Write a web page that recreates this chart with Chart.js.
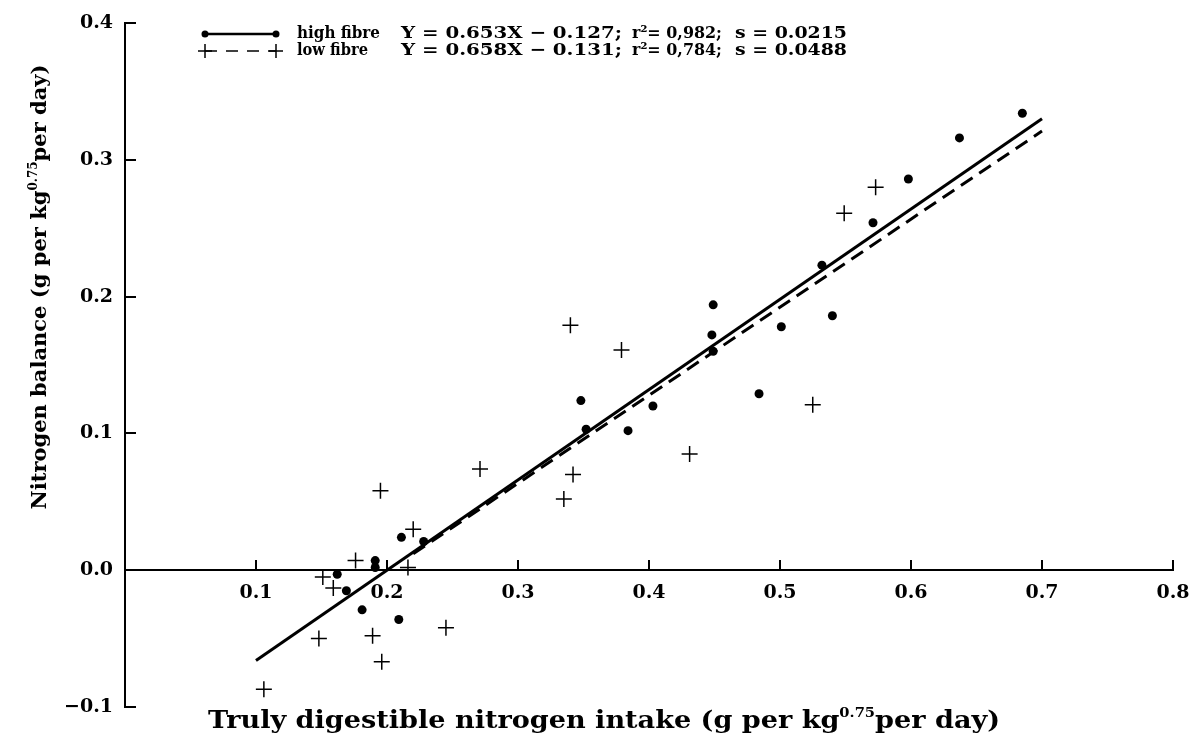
<!DOCTYPE html>
<html>
<head>
<meta charset="utf-8">
<script src="https://cdn.jsdelivr.net/npm/chart.js@4.4.1/dist/chart.umd.min.js"></script>
<style>
  html, body { margin: 0; padding: 0; background: #fff; }
</style>
</head>
<body>
<canvas id="chart" width="1199" height="736"></canvas>
<script>
// high fibre (dots)
const highX = [0.685, 0.637, 0.598, 0.571, 0.532, 0.540, 0.501, 0.449, 0.448, 0.449, 0.484,
               0.348, 0.403, 0.352, 0.384, 0.211, 0.228, 0.191, 0.191, 0.162, 0.169, 0.181, 0.209];
const highY = [0.334, 0.316, 0.286, 0.254, 0.223, 0.186, 0.178, 0.194, 0.172, 0.160, 0.129,
               0.124, 0.120, 0.103, 0.102, 0.024, 0.021, 0.007, 0.002, -0.003, -0.015, -0.029, -0.036];

// low fibre (crosses)
const lowX = [0.573, 0.549, 0.340, 0.379, 0.525, 0.431, 0.271, 0.195, 0.342, 0.335,
              0.220, 0.176, 0.216, 0.151, 0.159, 0.245, 0.148, 0.189, 0.196, 0.106];
const lowY = [0.280, 0.261, 0.179, 0.161, 0.121, 0.085, 0.074, 0.058, 0.070, 0.052,
              0.030, 0.007, 0.002, -0.005, -0.013, -0.042, -0.050, -0.048, -0.067, -0.087];

// fitted lines, end points
const highFitX = [0.10, 0.70];
const highFitY = [-0.066, 0.330];
const lowFitX = [0.22, 0.70];
const lowFitY = [0.012, 0.321];

const xTicks = [0.1, 0.2, 0.3, 0.4, 0.5, 0.6, 0.7, 0.8];
const xTickLabels = ['0.1', '0.2', '0.3', '0.4', '0.5', '0.6', '0.7', '0.8'];
const yTicks = [-0.1, 0.0, 0.1, 0.2, 0.3, 0.4];
const yTickLabels = ['\u22120.1', '0.0', '0.1', '0.2', '0.3', '0.4'];

const legendNames = ['high fibre', 'low fibre'];
const legendEq = ['Y = 0.653X \u2212 0.127;', 'Y = 0.658X \u2212 0.131;'];
const legendR2 = ['r\u00b2= 0,982;', 'r\u00b2= 0,784;'];
const legendS = ['s = 0.0215', 's = 0.0488'];

const xTitle = [['Truly digestible nitrogen intake (g per kg', false], ['0.75', true], ['per day)', false]];
const yTitle = [['Nitrogen balance (g per kg', false], ['0.75', true], ['per day)', false]];

const FONT = '"DejaVu Serif", serif';

function toPoints(xs, ys) {
    return xs.map((x, i) => ({ x: x, y: ys[i] }));
}

// draw text squeezed or stretched to width w
function fitText(c, t, x, y, w) {
    const m = c.measureText(t).width;
    c.save();
    c.translate(x, y);
    c.scale(w / m, 1);
    c.fillText(t, 0, 0);
    c.restore();
}

// text with a raised small part, centred on (x, y), scaled to width w
function drawRich(c, parts, x, y, size, w) {
    const fontOf = sup => 'bold ' + (sup ? Math.round(size * 0.55) : size) + 'px ' + FONT;
    const widths = parts.map(([t, sup]) => {
        c.font = fontOf(sup);
        return c.measureText(t).width;
    });
    const natural = widths.reduce((a, b) => a + b, 0);
    const k = w ? w / natural : 1;
    c.save();
    c.translate(x - natural * k / 2, y);
    c.scale(k, 1);
    let cx = 0;
    parts.forEach(([t, sup], i) => {
        c.font = fontOf(sup);
        c.fillText(t, cx, sup ? -size * 0.45 : 0);
        cx += widths[i];
    });
    c.restore();
}

const extras = {
    id: 'extras',
    afterDraw(chart) {
        const c = chart.ctx;
        c.save();
        c.fillStyle = '#000';
        c.strokeStyle = '#000';
        c.textBaseline = 'middle';
        c.textAlign = 'left';

        // legend
        const rows = [34, 51];
        const nameW = [83, 71];
        rows.forEach((ry, i) => {
            c.lineWidth = i === 0 ? 2.5 : 1.5;
            c.setLineDash(i === 0 ? [] : [12, 9]);
            c.beginPath();
            c.moveTo(205, ry);
            c.lineTo(276, ry);
            c.stroke();
            c.setLineDash([]);
            if (i === 0) {
                [205, 276].forEach(px => {
                    c.beginPath();
                    c.arc(px, ry, 3.5, 0, Math.PI * 2);
                    c.fill();
                });
            } else {
                [205, 276].forEach(px => {
                    c.beginPath();
                    c.moveTo(px - 7, ry); c.lineTo(px + 7, ry);
                    c.moveTo(px, ry - 7); c.lineTo(px, ry + 7);
                    c.stroke();
                });
            }
            c.font = 'bold 17px ' + FONT;
            fitText(c, legendNames[i], 297, ry, nameW[i]);
            fitText(c, legendEq[i], 401, ry, 221);
            fitText(c, legendR2[i], 632, ry, 90);
            fitText(c, legendS[i], 735, ry, 112);
        });

        // axis titles
        c.textBaseline = 'alphabetic';
        drawRich(c, xTitle, 604, 728, 24, 792);
        c.translate(46, 287);
        c.rotate(-Math.PI / 2);
        drawRich(c, yTitle, 0, 0, 21, 445);
        c.restore();
    }
};

const tickFont = { family: FONT, size: 19, weight: 'bold' };

const chart = new Chart(document.getElementById('chart').getContext('2d'), {
    type: 'scatter',
    data: {
        datasets: [
            {
                label: 'high fibre fit',
                data: toPoints(highFitX, highFitY),
                showLine: true,
                borderColor: '#000',
                borderWidth: 3,
                pointRadius: 0
            },
            {
                label: 'low fibre fit',
                data: toPoints(lowFitX, lowFitY),
                showLine: true,
                borderColor: '#000',
                borderWidth: 3,
                borderDash: [14, 8],
                pointRadius: 0
            },
            {
                label: 'high fibre',
                data: toPoints(highX, highY),
                pointStyle: 'circle',
                pointRadius: 4.5,
                backgroundColor: '#000',
                borderColor: '#000',
                borderWidth: 0
            },
            {
                label: 'low fibre',
                data: toPoints(lowX, lowY),
                pointStyle: 'cross',
                pointRadius: 8,
                borderColor: '#000',
                borderWidth: 1.5
            }
        ]
    },
    options: {
        responsive: false,
        animation: false,
        devicePixelRatio: 1,
        layout: { padding: { left: 0, right: 26, top: 23, bottom: 29 } },
        plugins: {
            legend: { display: false },
            tooltip: { enabled: false }
        },
        scales: {
            x: {
                type: 'linear',
                min: 0,
                max: 0.8,
                position: { y: 0 },
                afterBuildTicks: s => { s.ticks = xTicks.map(v => ({ value: v })); },
                afterFit: s => { s.paddingLeft = 0; s.paddingRight = 0; },
                ticks: {
                    callback: (v, i) => xTickLabels[i],
                    font: tickFont,
                    color: '#000',
                    padding: 22,
                    maxRotation: 0,
                    autoSkip: false
                },
                grid: { drawOnChartArea: false, drawTicks: true, tickLength: -11, color: '#000', lineWidth: 2 },
                border: { display: true, color: '#000', width: 2 }
            },
            y: {
                type: 'linear',
                min: -0.1,
                max: 0.4,
                position: 'left',
                afterBuildTicks: s => { s.ticks = yTicks.map(v => ({ value: v })); },
                afterFit: s => { s.width = 125; s.paddingTop = 0; s.paddingBottom = 0; },
                ticks: {
                    callback: (v, i) => yTickLabels[i],
                    font: tickFont,
                    color: '#000',
                    padding: 23,
                    autoSkip: false
                },
                grid: { drawOnChartArea: false, drawTicks: true, tickLength: -11, color: '#000', lineWidth: 2 },
                border: { display: true, color: '#000', width: 2 }
            }
        }
    },
    plugins: [extras]
});
</script>
</body>
</html>
